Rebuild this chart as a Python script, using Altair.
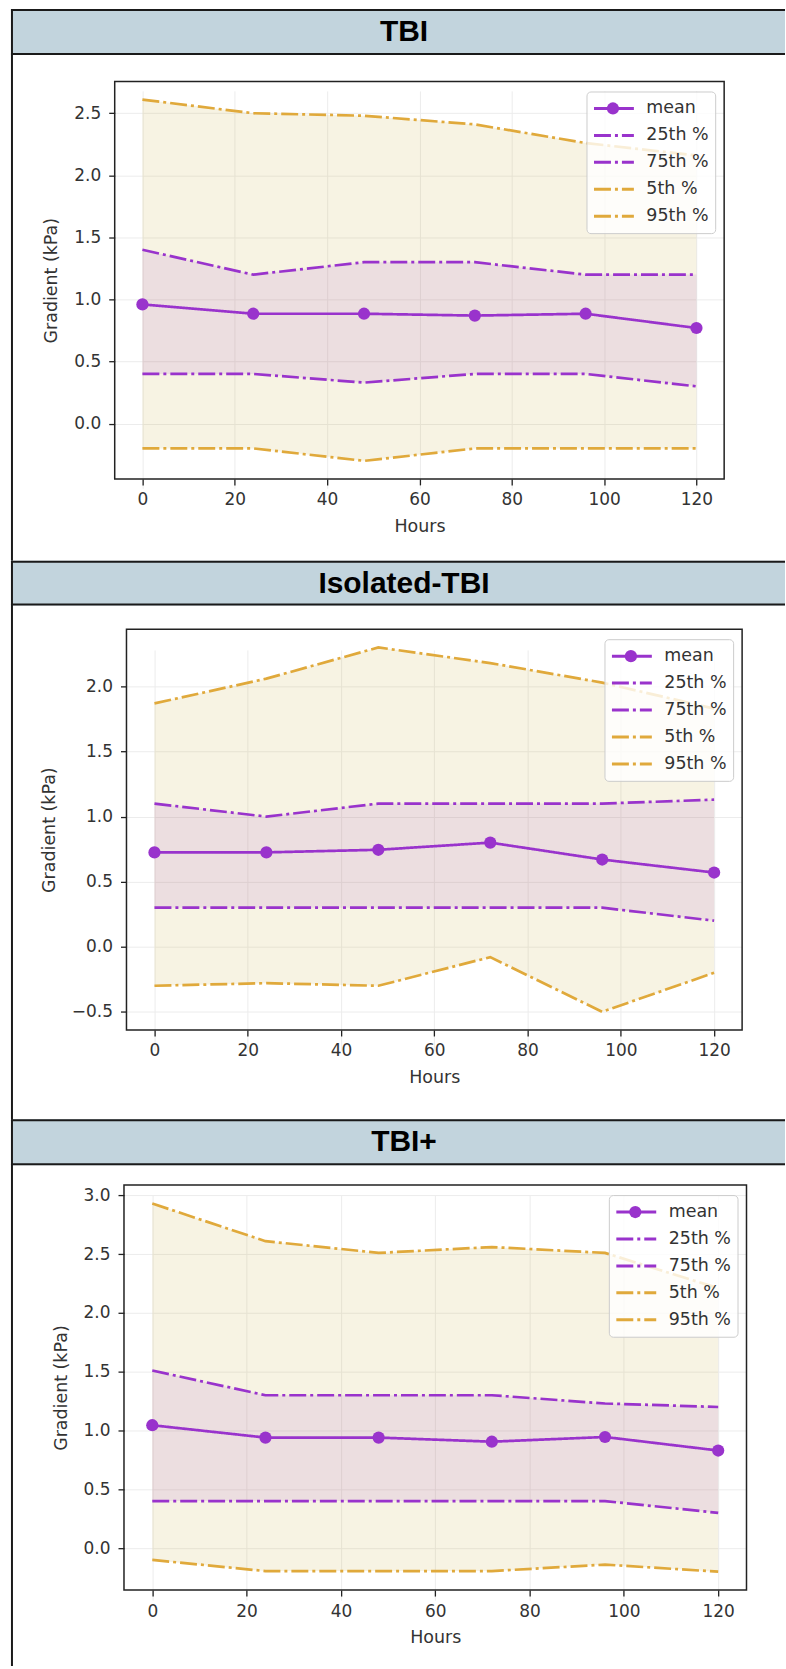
import altair as alt
import pandas as pd

# ---------------- data ----------------
hours = [0, 24, 48, 72, 96, 120]
groups = ["TBI", "Isolated-TBI", "TBI+"]
series_names = ["mean", "25th %", "75th %", "5th %", "95th %"]
x_ticks = [0, 20, 40, 60, 80, 100, 120]
y_ticks = [-0.5, 0.0, 0.5, 1.0, 1.5, 2.0, 2.5, 3.0]

tbi_mean = [0.96, 0.885, 0.885, 0.87, 0.885, 0.77]
tbi_p25 = [0.40, 0.40, 0.33, 0.40, 0.40, 0.30]
tbi_p75 = [1.40, 1.20, 1.30, 1.30, 1.20, 1.20]
tbi_p5 = [-0.20, -0.20, -0.30, -0.20, -0.20, -0.20]
tbi_p95 = [2.61, 2.50, 2.48, 2.41, 2.26, 2.16]

iso_mean = [0.725, 0.725, 0.745, 0.80, 0.67, 0.57]
iso_p25 = [0.30, 0.30, 0.30, 0.30, 0.30, 0.20]
iso_p75 = [1.10, 1.00, 1.10, 1.10, 1.10, 1.13]
iso_p5 = [-0.30, -0.28, -0.30, -0.08, -0.50, -0.20]
iso_p95 = [1.87, 2.06, 2.30, 2.18, 2.03, 1.83]

plus_mean = [1.045, 0.94, 0.94, 0.905, 0.945, 0.83]
plus_p25 = [0.40, 0.40, 0.40, 0.40, 0.40, 0.30]
plus_p75 = [1.51, 1.30, 1.30, 1.30, 1.23, 1.20]
plus_p5 = [-0.10, -0.195, -0.195, -0.195, -0.14, -0.20]
plus_p95 = [2.93, 2.61, 2.51, 2.56, 2.51, 2.21]

stats = [
    (tbi_mean, tbi_p25, tbi_p75, tbi_p5, tbi_p95),
    (iso_mean, iso_p25, iso_p75, iso_p5, iso_p95),
    (plus_mean, plus_p25, plus_p75, plus_p5, plus_p95),
]

# ---------------- style / layout ----------------
PURPLE = "#9933cc"
GOLD = "#e0a93b"
BAND_OUTER = "#c8b040"
HEADER_FILL = "#c2d4dd"
FONT = "DejaVu Sans"
TXT = "#333333"
W = 776
DASHDOT = [17, 4, 3, 4]

layouts = [
    dict(H=553, hh=46, L=104, R=715, T=72.6, B=471),
    dict(H=560, hh=45, L=115.8, R=733, T=68.7, B=470.5),
    dict(H=548, hh=46, L=113.3, R=737.4, T=66, B=472),
]


def section(i):
    name = groups[i]
    mean, p25, p75, p5, p95 = stats[i]
    lay = layouts[i]
    H, hh = lay["H"], lay["hh"]

    long_df = pd.DataFrame({
        "hours": hours * 5,
        "series": [s for s in series_names for _ in hours],
        "value": mean + p25 + p75 + p5 + p95,
    })
    wide_df = pd.DataFrame({"hours": hours, "p5": p5, "p95": p95, "p25": p25, "p75": p75})
    mean_df = pd.DataFrame({"hours": hours, "series": ["mean"] * len(hours), "value": mean})
    one = pd.DataFrame({"g": [name]})

    allv = mean + p25 + p75 + p5 + p95
    lo, hi = min(allv), max(allv)
    ydom = [lo - 0.05 * (hi - lo), hi + 0.05 * (hi - lo)]
    xspan = hours[-1] - hours[0]
    xdom = [hours[0] - 0.05 * xspan, hours[-1] + 0.05 * xspan]
    yt = [v for v in y_ticks if ydom[0] <= v <= ydom[1]]

    xs = alt.Scale(domain=xdom, range=[lay["L"], lay["R"]], nice=False, zero=False)
    ys = alt.Scale(domain=ydom, range=[lay["B"], lay["T"]], nice=False, zero=False)

    frame_df = pd.DataFrame({"x0": [xdom[0]], "x1": [xdom[1]], "y0": [ydom[0]], "y1": [ydom[1]]})

    xaxis = alt.Axis(values=x_ticks, offset=-(H - lay["B"]), title="Hours", grid=True,
                     gridColor="#ececec", gridWidth=1, domain=False, tickSize=6,
                     tickColor="#222222", tickWidth=1.3, labelFont=FONT, labelFontSize=17,
                     labelColor=TXT, labelPadding=7, labelFlush=False, labelOverlap=False,
                     titleFont=FONT, titleFontSize=17.5, titleFontWeight="normal",
                     titleColor=TXT, titlePadding=10)
    yaxis = alt.Axis(values=yt, format=".1f", offset=-lay["L"], title="Gradient (kPa)",
                     grid=True, gridColor="#ececec", gridWidth=1, domain=False, tickSize=6,
                     tickColor="#222222", tickWidth=1.3, labelFont=FONT, labelFontSize=17,
                     labelColor=TXT, labelPadding=8, labelFlush=False, labelOverlap=False,
                     titleFont=FONT, titleFontSize=17.5, titleFontWeight="normal",
                     titleColor=TXT, titlePadding=13)

    lx = lay["R"] - 8 - 130
    ly = lay["T"] + 10
    leg1 = alt.Legend(orient="none", legendX=lx, legendY=ly, title=None, symbolType="stroke",
                      symbolSize=1600, symbolStrokeWidth=3, clipHeight=22, rowPadding=5,
                      padding=6, labelFont=FONT, labelFontSize=17.5, labelColor=TXT,
                      labelOffset=11, strokeColor="#cccccc",
                      fillColor="rgba(255,255,255,0.8)", cornerRadius=4, zindex=1)
    leg2 = alt.Legend(orient="none", legendX=lx + 20, legendY=ly + 6, title=None,
                      symbolType="circle", symbolSize=150, symbolFillColor=PURPLE,
                      symbolStrokeColor=PURPLE, symbolStrokeWidth=0, padding=0,
                      clipHeight=22, labelExpr="''", labelFontSize=1, labelOffset=0,
                      symbolOpacity=1, zindex=2)

    X = lambda f: alt.X(f, scale=xs, axis=xaxis)
    Y = lambda f: alt.Y(f, scale=ys, axis=yaxis)

    header = alt.Chart(one).mark_rect(fill=HEADER_FILL).encode(
        x=alt.value(0), x2=alt.value(W), y=alt.value(0), y2=alt.value(hh))

    outer = alt.Chart(wide_df).mark_area(color=BAND_OUTER, opacity=0.15).encode(
        x=X("hours:Q"), y=Y("p5:Q"), y2="p95:Q")
    inner = alt.Chart(wide_df).mark_area(color=PURPLE, opacity=0.11).encode(
        x=X("hours:Q"), y=Y("p25:Q"), y2="p75:Q")

    lines = alt.Chart(long_df).mark_line(strokeWidth=2.7).encode(
        x=X("hours:Q"), y=Y("value:Q"),
        color=alt.Color("series:N", scale=alt.Scale(domain=series_names,
                        range=[PURPLE, PURPLE, PURPLE, GOLD, GOLD]), legend=leg1),
        strokeDash=alt.StrokeDash("series:N", scale=alt.Scale(domain=series_names,
                                  range=[[1, 0], DASHDOT, DASHDOT, DASHDOT, DASHDOT]),
                                  legend=leg1),
        detail="series:N",
    )

    points = alt.Chart(mean_df).mark_point(filled=True, size=150, color=PURPLE, opacity=1).encode(
        x=X("hours:Q"), y=Y("value:Q"),
        shape=alt.Shape("series:N", scale=alt.Scale(domain=["mean"], range=["circle"]),
                        legend=leg2),
    )

    frame = alt.Chart(frame_df).mark_rect(fillOpacity=0, stroke="#222222", strokeWidth=1.5).encode(
        x=X("x0:Q"), x2="x1:Q", y=Y("y0:Q"), y2="y1:Q")

    top_rule = alt.Chart(one).mark_rule(color="#1a1a1a", strokeWidth=2).encode(
        x=alt.value(0), x2=alt.value(W), y=alt.value(1))
    bot_rule = alt.Chart(one).mark_rule(color="#1a1a1a", strokeWidth=2).encode(
        x=alt.value(0), x2=alt.value(W), y=alt.value(hh - 1))
    left_rule = alt.Chart(one).mark_rule(color="#1a1a1a", strokeWidth=2).encode(
        x=alt.value(1), y=alt.value(0), y2=alt.value(H))

    title = alt.Chart(one).mark_text(font="Liberation Sans", fontSize=30, fontWeight="bold",
                                     align="center", baseline="alphabetic", color="black").encode(
        x=alt.value(394), y=alt.value(32), text="g:N")

    return alt.layer(header, outer, inner, lines, points, frame, top_rule, bot_rule,
                     left_rule, title).properties(width=W, height=H)


sections = [section(i) for i in range(3)]

chart = alt.vconcat(*sections, spacing=0, bounds="flush").resolve_scale(
    x="independent", y="independent", color="independent",
    strokeDash="independent", shape="independent"
).resolve_legend(
    color="independent", strokeDash="independent", shape="independent"
).properties(
    padding={"left": 10, "top": 6, "right": 0, "bottom": 0},
    background="white",
).configure_view(strokeWidth=0)

chart.save("out.html", embed_options={"renderer": "svg", "actions": False})
